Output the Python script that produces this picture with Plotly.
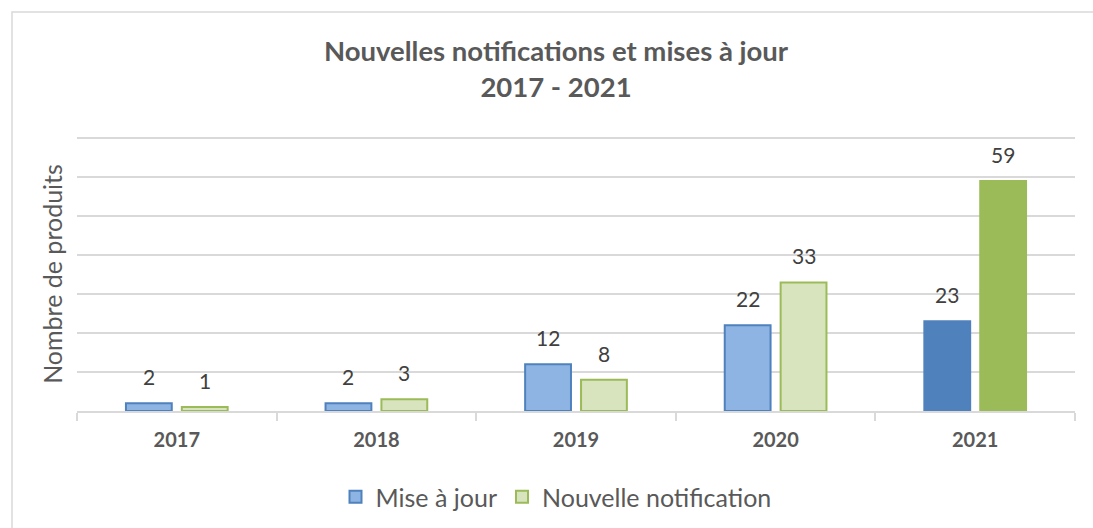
import plotly.graph_objects as go

years = ["2017", "2018", "2019", "2020", "2021"]
mise_a_jour = [2, 2, 12, 22, 23]
nouvelle_notification = [1, 3, 8, 33, 59]

series_names = ["Mise à jour", "Nouvelle notification"]
title_text = "<b>Nouvelles notifications et mises à jour<br>2017 - 2021</b>"
y_title = "Nombre de produits"

FONT = "Lato, 'Open Sans', sans-serif"
W, H = 1093, 528
ML, MR, MT, MB = 77, 18, 137, 117

blue_fill = ["#8EB4E3"] * 4 + ["#4F81BD"]
green_fill = ["#D7E4BD"] * 4 + ["#9BBB59"]

fig = go.Figure()
fig.add_trace(go.Bar(
    x=years, y=mise_a_jour, name=series_names[0],
    marker=dict(color=blue_fill, line=dict(color="#4F81BD", width=2)),
    hoverinfo="x+y",
))
fig.add_trace(go.Bar(
    x=years, y=nouvelle_notification, name=series_names[1],
    marker=dict(color=green_fill, line=dict(color="#9BBB59", width=2)),
    hoverinfo="x+y",
))

# data labels above bars
plot_w = W - ML - MR
cat_w = plot_w / len(years)
bargap = 0.44
half_off = (1 - bargap) * cat_w / 4
annotations = []
for vals, sgn in ((mise_a_jour, -1), (nouvelle_notification, 1)):
    for i, v in enumerate(vals):
        annotations.append(dict(
            x=i, y=v, xref="x", yref="y", text=str(v), showarrow=False,
            yanchor="bottom", xanchor="center", xshift=sgn * half_off, yshift=12,
            font=dict(family=FONT, size=21, color="#404040"),
        ))
fig.update_layout(annotations=annotations)

# outer chart border
fig.add_shape(type="rect", xref="paper", yref="paper",
              x0=(12 - ML) / plot_w, x1=1.1,
              y0=-1, y1=(H - MB - 12) / (H - MT - MB),
              line=dict(color="#D9D9D9", width=1.5), fillcolor="rgba(0,0,0,0)",
              layer="below")

fig.update_layout(
    width=W, height=H,
    margin=dict(l=ML, r=MR, t=MT, b=MB, autoexpand=False),
    paper_bgcolor="white", plot_bgcolor="white",
    barmode="group", bargap=bargap, bargroupgap=0.18,
    title=dict(text=title_text, x=556 / W, xanchor="center", xref="container",
               y=1 - 61 / H, yanchor="middle", yref="container",
               font=dict(family=FONT, size=27.5, color="#595959")),
    font=dict(family=FONT, color="#595959"),
    xaxis=dict(
        type="category", automargin=False, range=[-0.5, len(years) - 0.5], autorange=False,
        showline=True, linecolor="#D9D9D9", linewidth=1.5,
        ticks="outside", tickson="boundaries", ticklen=8, tickcolor="#D9D9D9", tickwidth=1.5,
        tickfont=dict(family=FONT, size=20, color="#595959", weight="bold"),
        showgrid=False, ticklabelstandoff=10, tickangle=0,
    ),
    yaxis=dict(
        range=[0, 70.3], autorange=False, dtick=10, showticklabels=False, automargin=False,
        showgrid=True, gridcolor="#D9D9D9", gridwidth=1.5,
        zeroline=False, showline=False, ticks="",
        title=dict(text=y_title, font=dict(family=FONT, size=25, color="#595959"), standoff=6),
    ),
    legend=dict(orientation="h", xref="container", yref="container",
                x=556 / W, xanchor="center", y=1 - 497 / H, yanchor="middle",
                font=dict(family=FONT, size=25, color="#595959"),
                itemwidth=30, traceorder="normal"),
    showlegend=True,
)

fig.write_html("out.html", config={"displayModeBar": False},
               post_script="document.body.style.margin='0';")
